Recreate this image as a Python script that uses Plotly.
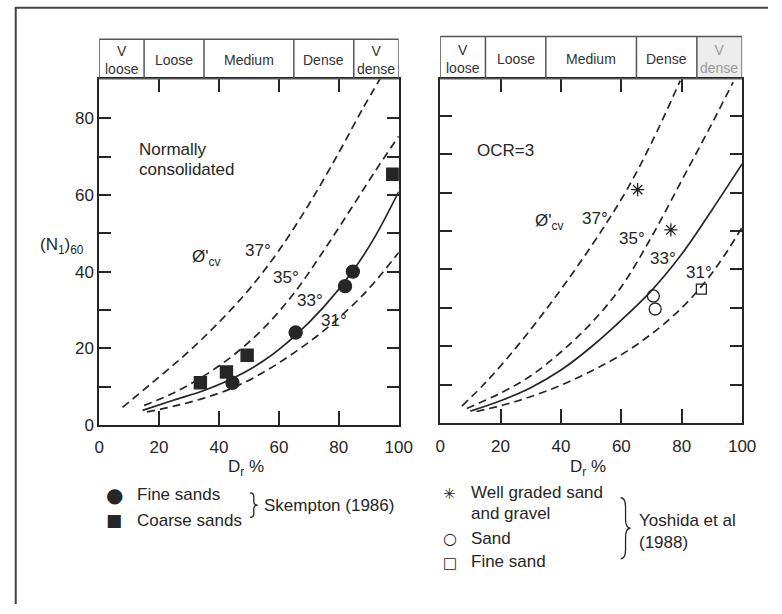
import plotly.graph_objects as go

W, H = 782, 614

# ---------------- data ----------------
density_edges = [0, 15, 35, 65, 85, 100]
density_labels = ["V<br>loose", "Loose", "Medium", "Dense", "V<br>dense"]

x_ticks = [0, 20, 40, 60, 80, 100]
y_ticks = [0, 10, 20, 30, 40, 50, 60, 70, 80]
y_ticktext = ["0", "", "20", "", "40", "", "60", "", "80"]

# Normally consolidated (left panel) - phi'cv curves
nc37_dr = [7.8, 20, 30, 40, 50, 60, 70, 80, 88, 93.8]
nc37_n = [4.6, 12.5, 19.2, 26.8, 35.3, 45.5, 57.5, 71, 82.5, 90.3]
nc35_dr = [15, 25, 35, 45, 55, 65, 75, 85, 92, 100]
nc35_n = [5.1, 8.4, 12.8, 18.3, 25.3, 34.3, 45.5, 57.5, 66, 75.3]
nc33_dr = [14.5, 25, 35, 45, 55, 65, 75, 85, 92, 100]
nc33_n = [3.8, 6.5, 9, 12.3, 16.8, 23, 30.8, 40.5, 49, 60.8]
nc31_dr = [16, 25, 35, 45, 55, 65, 75, 85, 92, 100]
nc31_n = [3.4, 4.9, 7, 9.8, 13.8, 18.8, 24.6, 31.5, 37.3, 45]

# Skempton (1986)
fine_dr = [44.5, 65.6, 82.1, 84.7]
fine_n = [11, 24.1, 36.2, 40]
coarse_dr = [33.8, 42.5, 49.4, 98]
coarse_n = [11, 13.8, 18.2, 65.4]

# OCR = 3 (right panel)
oc37_dr = [7.2, 15, 25, 35, 45, 55, 62, 70, 79.5]
oc37_n = [4.4, 10.5, 19.5, 29.5, 40.3, 52, 61, 73, 89.2]
oc35_dr = [8.8, 20, 30, 40, 50, 60, 70, 80, 90, 97]
oc35_n = [3.8, 7.8, 12.3, 18.5, 26, 35.5, 48.5, 63.2, 78, 88.8]
oc33_dr = [10, 20, 30, 40, 50, 60, 70, 80, 90, 100]
oc33_n = [3.1, 5.8, 9.2, 13.8, 19.8, 26.8, 34.5, 44, 55.5, 67.5]
oc31_dr = [12, 25, 38, 50, 60, 70, 80, 88, 94, 100]
oc31_n = [3, 5.6, 9.2, 13.5, 17.8, 23.2, 30, 37, 43.5, 51]

# Yoshida et al (1988)
wg_dr = [65.4, 76.4]
wg_n = [60.8, 50.3]
sand_dr = [70.6, 71.2]
sand_n = [33.1, 29.7]
fsand_dr = [86.5]
fsand_n = [34.9]

# ---------------- helpers ----------------
INK = "#262626"
FONT = "Liberation Sans, Arial, sans-serif"
SYMFONT = "DejaVu Sans, sans-serif"


def px(x):
    return x / W


def py(y):
    return 1 - y / H


fig = go.Figure()


def curve(xs, ys, ax, dashed):
    fig.add_trace(go.Scatter(
        x=xs, y=ys, mode="lines", xaxis=ax[0], yaxis=ax[1],
        line=dict(color=INK, width=1.7, shape="spline", smoothing=1.0,
                  dash="8px,5px" if dashed else "solid"),
        hoverinfo="skip", showlegend=False))


def pts(xs, ys, ax, symbol, size, lw=1.4):
    fig.add_trace(go.Scatter(
        x=xs, y=ys, mode="markers", xaxis=ax[0], yaxis=ax[1],
        marker=dict(symbol=symbol, size=size, color=INK,
                    line=dict(color=INK, width=lw)),
        showlegend=False))


L = ("x", "y")
R = ("x2", "y2")
curve(nc37_dr, nc37_n, L, True)
curve(nc35_dr, nc35_n, L, True)
curve(nc33_dr, nc33_n, L, False)
curve(nc31_dr, nc31_n, L, True)
pts(fine_dr, fine_n, L, "circle", 13)
pts(coarse_dr, coarse_n, L, "square", 12)

curve(oc37_dr, oc37_n, R, True)
curve(oc35_dr, oc35_n, R, True)
curve(oc33_dr, oc33_n, R, False)
curve(oc31_dr, oc31_n, R, True)
pts(wg_dr, wg_n, R, "asterisk-open", 11, lw=1.3)
pts(sand_dr, sand_n, R, "circle-open", 12, lw=1.3)
pts(fsand_dr, fsand_n, R, "square-open", 10, lw=1.3)

axis_common = dict(showgrid=False, zeroline=False, showline=True,
                   linecolor=INK, linewidth=1.5, mirror="ticks",
                   ticks="inside", tickcolor=INK, tickwidth=1.5,
                   tickfont=dict(family=FONT, size=17, color=INK),
                   fixedrange=True)

fig.update_layout(
    width=W, height=H, margin=dict(l=0, r=0, t=0, b=0),
    paper_bgcolor="white", plot_bgcolor="white", showlegend=False,
    xaxis=dict(domain=[px(96.5), px(403.5)], range=[0, 100],
               tickvals=x_ticks, ticklen=14, anchor="y",
               ticklabelstandoff=6, **axis_common),
    yaxis=dict(domain=[py(432), py(80)], range=[0, 90.3],
               tickvals=y_ticks, ticktext=y_ticktext, ticklen=12,
               anchor="x", **axis_common),
    xaxis2=dict(domain=[px(446), px(755.5)], range=[0, 100],
                tickvals=x_ticks, ticklen=14, anchor="y2",
                ticklabelstandoff=7, **axis_common),
    yaxis2=dict(domain=[py(430), py(80)], range=[0, 89.7],
                tickvals=y_ticks, showticklabels=False, ticklen=12,
                anchor="x2", **axis_common),
)

shapes = []
annotations = []


def txt(x, y, s, size=17, xanchor="left", color=INK, family=FONT):
    annotations.append(dict(
        x=px(x), y=py(y), xref="paper", yref="paper",
        text=s, showarrow=False, xanchor=xanchor, yanchor="middle",
        font=dict(family=family, size=size, color=color)))


# outer frame (top & left edges visible)
shapes.append(dict(type="line", xref="paper", yref="paper",
                   x0=px(10), x1=1.0, y0=py(8), y1=py(8),
                   line=dict(color="#444", width=2)))
shapes.append(dict(type="line", xref="paper", yref="paper",
                   x0=px(11), x1=px(11), y0=py(8), y1=0,
                   line=dict(color="#444", width=2)))

# density header bands
for xref, top, grey_last in (("x", 40, False), ("x2", 37, True)):
    if grey_last:
        shapes.append(dict(type="rect", xref=xref, yref="paper",
                           x0=density_edges[-2], x1=density_edges[-1],
                           y0=py(80), y1=py(top), layer="below",
                           fillcolor="#ececec", line=dict(width=0)))
    shapes.append(dict(type="rect", xref=xref, yref="paper",
                       x0=density_edges[0], x1=density_edges[-1],
                       y0=py(80), y1=py(top),
                       line=dict(color="#555", width=1.5)))
    for e in density_edges[1:-1]:
        shapes.append(dict(type="line", xref=xref, yref="paper",
                           x0=e, x1=e, y0=py(80), y1=py(top),
                           line=dict(color="#555", width=1.5)))
    for i, lab in enumerate(density_labels):
        c = (density_edges[i] + density_edges[i + 1]) / 2
        col = "#9a9a9a" if (grey_last and i == len(density_labels) - 1) else "#333"
        annotations.append(dict(
            x=c, y=py((top + 80) / 2 + 1), xref=xref, yref="paper",
            text=lab, showarrow=False, xanchor="center", yanchor="middle",
            font=dict(family=FONT, size=14, color=col)))

# left panel labels
txt(135, 152, "Normally")
txt(135, 172, "consolidated")
txt(190, 262, "Ø'<sub>cv</sub>")
txt(244, 255, "37°")
txt(273, 282, "35°")
txt(297, 305, "33°")
txt(322, 326, "31°")
txt(58, 250, "(N<sub>1</sub>)<sub>60</sub>", xanchor="center")
txt(247, 476, "D<sub>r</sub> %", xanchor="center")

# right panel labels
txt(482, 153, "OCR=3")
txt(541, 226, "Ø'<sub>cv</sub>")
txt(589, 222, "37°")
txt(627, 242, "35°")
txt(659, 263, "33°")
txt(696, 277, "31°")
txt(598, 476, "D<sub>r</sub> %", xanchor="center")

# legends
txt(112, 503, "●", size=20, xanchor="center", family=SYMFONT)
txt(133, 503, "Fine sands")
txt(112, 529, "■", size=17, xanchor="center", family=SYMFONT)
txt(133, 529, "Coarse sands")
txt(263, 514, "Skempton (1986)")

txt(456, 502, "✳", size=15, xanchor="center", family=SYMFONT)
txt(476, 501, "Well graded sand")
txt(476, 522, "and gravel")
txt(456, 547, "○", size=16, xanchor="center", family=SYMFONT)
txt(476, 547, "Sand")
txt(456, 572, "□", size=15, xanchor="center", family=SYMFONT)
txt(476, 571, "Fine sand")
txt(648, 529, "Yoshida et al")
txt(648, 551, "(1988)")


def brace(x, y0, y1, w):
    ym = (y0 + y1) / 2
    q = w / 2
    pts_ = [
        f"M {px(x)},{py(y0)}",
        f"Q {px(x + q)},{py(y0)} {px(x + q)},{py(y0 + (ym - y0) * 0.3)}",
        f"L {px(x + q)},{py(ym - (ym - y0) * 0.3)}",
        f"Q {px(x + q)},{py(ym)} {px(x + w)},{py(ym)}",
        f"Q {px(x + q)},{py(ym)} {px(x + q)},{py(ym + (y1 - ym) * 0.3)}",
        f"L {px(x + q)},{py(y1 - (y1 - ym) * 0.3)}",
        f"Q {px(x + q)},{py(y1)} {px(x)},{py(y1)}",
    ]
    shapes.append(dict(type="path", xref="paper", yref="paper",
                       path=" ".join(pts_), line=dict(color=INK, width=1.3)))


brace(251, 501, 526, 8)
brace(631, 506, 568, 10)

fig.update_layout(shapes=shapes, annotations=annotations)
fig.write_html("out.html")
